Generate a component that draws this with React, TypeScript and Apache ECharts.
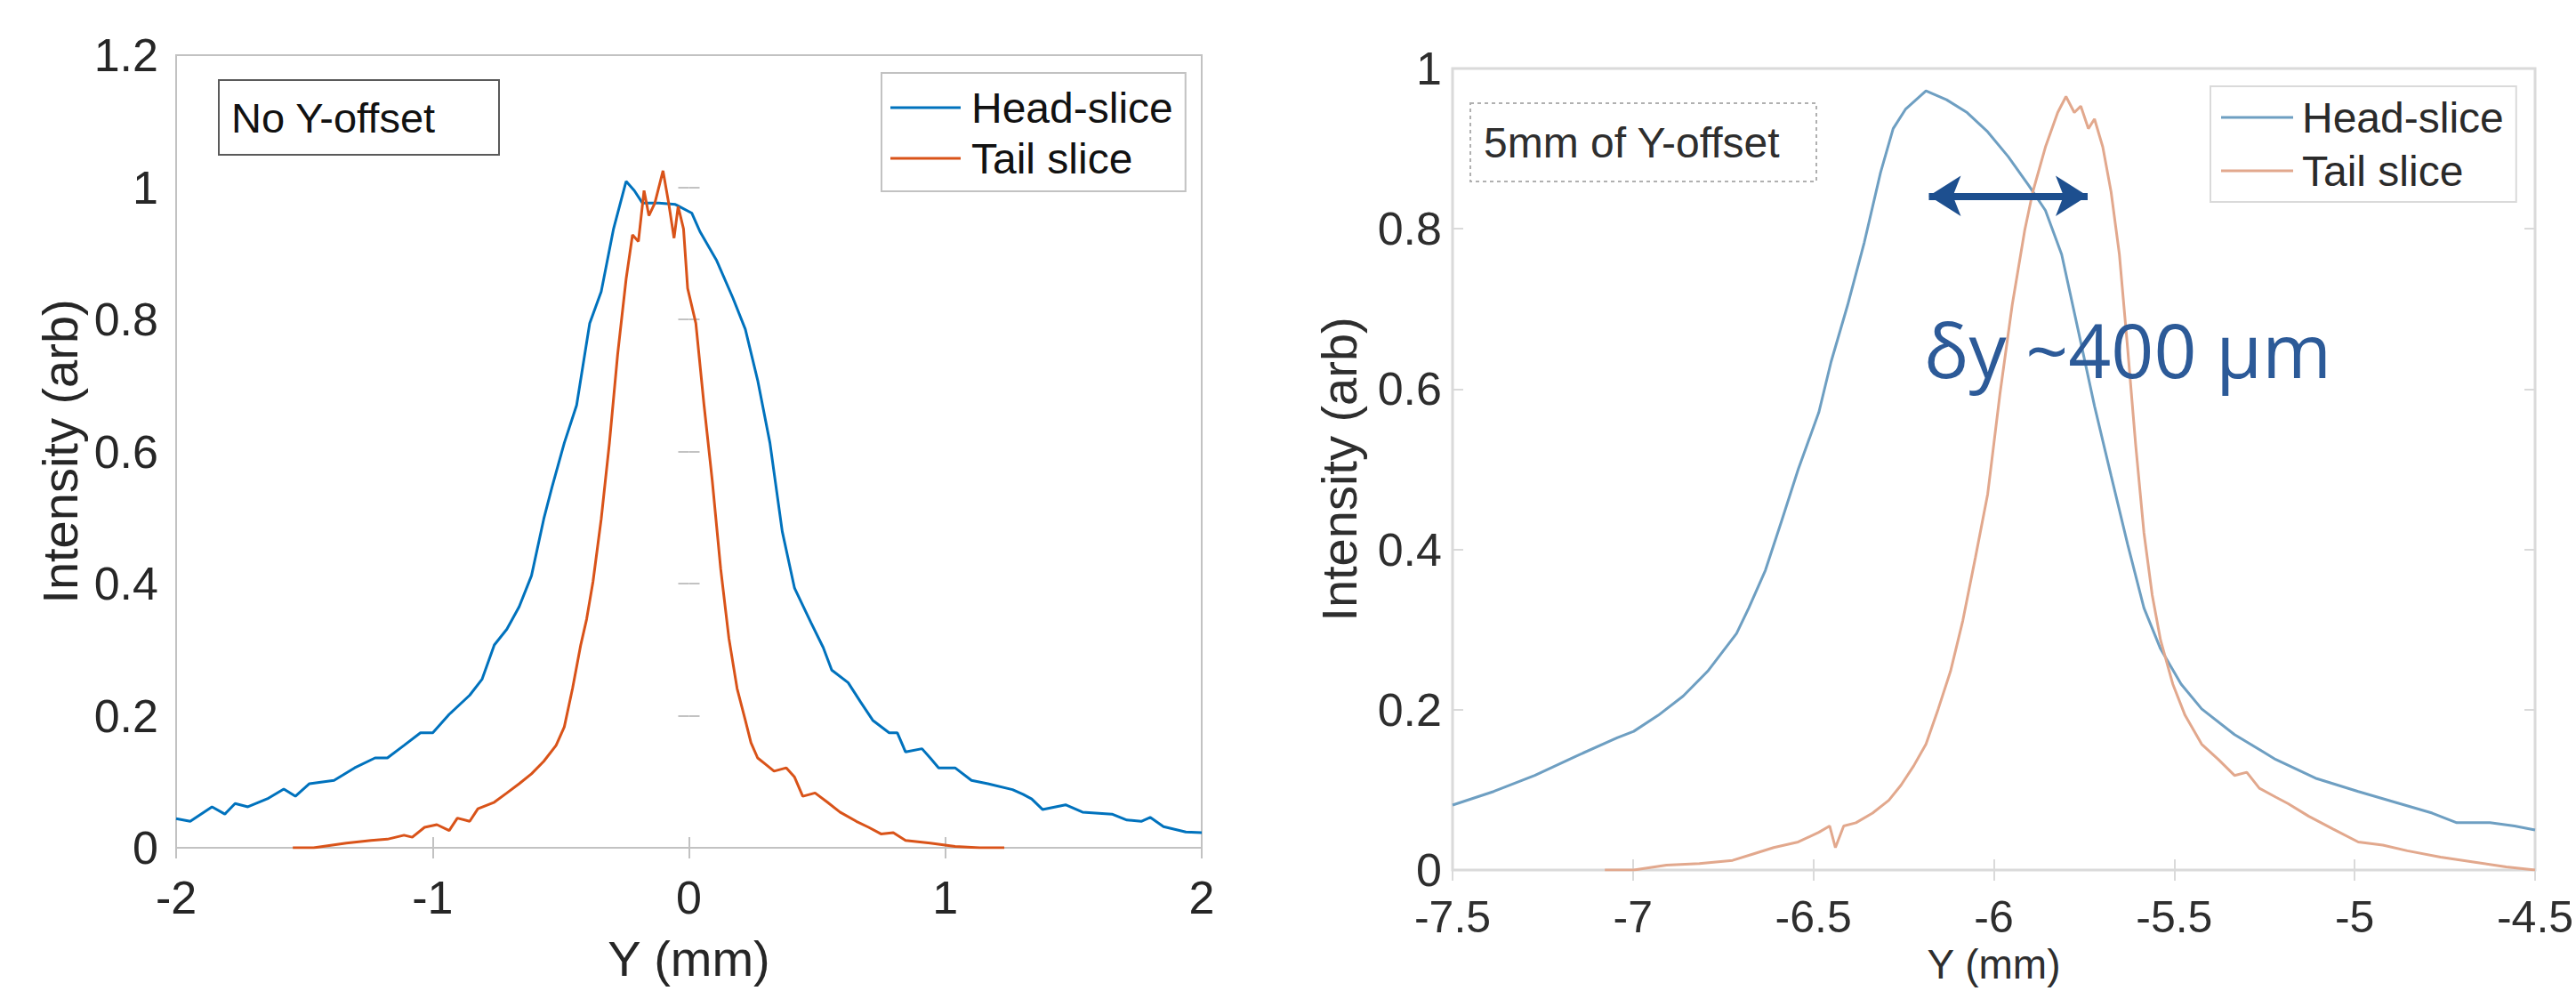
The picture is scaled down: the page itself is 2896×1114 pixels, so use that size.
import React, { useEffect, useRef } from "react";
import * as echarts from "echarts";

// ---------- Left panel: No Y-offset ----------
const leftHeadX = [-2.0, -1.945, -1.86, -1.81, -1.77, -1.72, -1.64, -1.58, -1.535, -1.48, -1.384, -1.304, -1.224, -1.176, -1.111, -1.047, -0.999, -0.935, -0.855, -0.807, -0.759, -0.71, -0.662, -0.614, -0.566, -0.534, -0.486, -0.438, -0.387, -0.342, -0.294, -0.245, -0.213, -0.181, -0.117, -0.053, 0.011, 0.043, 0.107, 0.172, 0.22, 0.268, 0.316, 0.364, 0.412, 0.476, 0.524, 0.557, 0.621, 0.669, 0.717, 0.781, 0.813, 0.845, 0.909, 0.941, 0.974, 1.038, 1.102, 1.166, 1.262, 1.303, 1.337, 1.379, 1.469, 1.535, 1.65, 1.708, 1.764, 1.799, 1.851, 1.938, 2.0];
const leftHeadY = [0.044, 0.04, 0.062, 0.051, 0.067, 0.062, 0.075, 0.089, 0.078, 0.097, 0.102, 0.121, 0.136, 0.136, 0.155, 0.174, 0.174, 0.202, 0.231, 0.255, 0.307, 0.331, 0.365, 0.412, 0.498, 0.546, 0.613, 0.67, 0.794, 0.842, 0.937, 1.009, 0.995, 0.976, 0.976, 0.974, 0.961, 0.933, 0.89, 0.832, 0.785, 0.708, 0.613, 0.479, 0.393, 0.341, 0.303, 0.269, 0.25, 0.221, 0.193, 0.174, 0.174, 0.145, 0.15, 0.136, 0.121, 0.121, 0.102, 0.097, 0.088, 0.081, 0.074, 0.058, 0.065, 0.054, 0.051, 0.042, 0.04, 0.046, 0.032, 0.024, 0.023];

const leftTailX = [-1.545, -1.464, -1.336, -1.24, -1.176, -1.111, -1.079, -1.031, -0.983, -0.935, -0.903, -0.855, -0.823, -0.759, -0.71, -0.662, -0.614, -0.566, -0.518, -0.486, -0.454, -0.422, -0.399, -0.374, -0.342, -0.31, -0.278, -0.245, -0.22, -0.197, -0.175, -0.156, -0.133, -0.101, -0.079, -0.058, -0.042, -0.021, -0.005, 0.027, 0.059, 0.091, 0.124, 0.156, 0.188, 0.22, 0.242, 0.268, 0.3, 0.332, 0.38, 0.412, 0.444, 0.492, 0.54, 0.589, 0.653, 0.701, 0.749, 0.797, 0.845, 0.941, 1.038, 1.134, 1.23];
const leftTailY = [0.0, 0.0, 0.007, 0.011, 0.013, 0.019, 0.016, 0.031, 0.035, 0.026, 0.045, 0.04, 0.059, 0.069, 0.083, 0.097, 0.112, 0.131, 0.155, 0.183, 0.241, 0.307, 0.346, 0.403, 0.498, 0.613, 0.747, 0.861, 0.928, 0.918, 0.995, 0.957, 0.976, 1.025, 0.976, 0.923, 0.971, 0.937, 0.847, 0.794, 0.67, 0.556, 0.422, 0.317, 0.241, 0.193, 0.159, 0.136, 0.126, 0.116, 0.121, 0.107, 0.078, 0.083, 0.069, 0.054, 0.04, 0.031, 0.021, 0.023, 0.011, 0.007, 0.002, 0.0, 0.0];

// ---------- Right panel: 5mm of Y-offset ----------
const rightHeadX = [-7.5, -7.386, -7.272, -7.158, -7.044, -6.998, -6.93, -6.861, -6.793, -6.713, -6.679, -6.633, -6.587, -6.542, -6.485, -6.451, -6.405, -6.359, -6.314, -6.279, -6.245, -6.188, -6.131, -6.074, -6.017, -5.96, -5.903, -5.857, -5.812, -5.766, -5.721, -5.675, -5.629, -5.584, -5.538, -5.481, -5.424, -5.333, -5.219, -5.105, -4.99, -4.876, -4.785, -4.717, -4.625, -4.557, -4.5];
const rightHeadY = [0.081, 0.098, 0.118, 0.142, 0.165, 0.173, 0.193, 0.217, 0.248, 0.295, 0.327, 0.374, 0.437, 0.5, 0.571, 0.634, 0.705, 0.783, 0.87, 0.925, 0.949, 0.972, 0.961, 0.945, 0.921, 0.89, 0.854, 0.823, 0.768, 0.673, 0.579, 0.492, 0.406, 0.327, 0.276, 0.232, 0.201, 0.169, 0.138, 0.114, 0.098, 0.083, 0.071, 0.059, 0.059, 0.055, 0.05];

const rightTailX = [-7.078, -6.998, -6.907, -6.816, -6.724, -6.667, -6.61, -6.542, -6.485, -6.455, -6.439, -6.416, -6.382, -6.336, -6.291, -6.257, -6.222, -6.188, -6.154, -6.12, -6.086, -6.051, -6.017, -5.983, -5.949, -5.914, -5.892, -5.857, -5.823, -5.8, -5.777, -5.759, -5.738, -5.721, -5.698, -5.675, -5.652, -5.629, -5.607, -5.584, -5.561, -5.538, -5.504, -5.47, -5.424, -5.378, -5.333, -5.299, -5.264, -5.219, -5.185, -5.127, -5.059, -4.99, -4.922, -4.854, -4.762, -4.671, -4.58, -4.5];
const rightTailY = [0.0, 0.0, 0.006, 0.008, 0.012, 0.02, 0.028, 0.035, 0.047, 0.055, 0.028, 0.055, 0.059, 0.071, 0.087, 0.106, 0.13, 0.157, 0.201, 0.248, 0.311, 0.39, 0.469, 0.594, 0.705, 0.799, 0.846, 0.902, 0.945, 0.965, 0.945, 0.953, 0.925, 0.937, 0.902, 0.846, 0.768, 0.65, 0.531, 0.421, 0.343, 0.287, 0.232, 0.193, 0.157, 0.138, 0.118, 0.122, 0.102, 0.091, 0.083, 0.067, 0.051, 0.035, 0.031, 0.024, 0.016, 0.01, 0.004, 0.0];

// Annotation arrow (data coordinates of the right panel)
const arrowX = [-6.18, -5.74];
const arrowY = 0.841;

const seriesNames = ["Head-slice", "Tail slice"];
const leftTexts = { box: "No Y-offset", xName: "Y (mm)", yName: "Intensity (arb)" };
const rightTexts = { box: "5mm of Y-offset", xName: "Y (mm)", yName: "Intensity (arb)", note: "δy ~400 μm" };

const FONT = '"Liberation Sans", Arial, sans-serif';

const pair = (xs: number[], ys: number[]) => xs.map((x, i) => [x, ys[i]]);

export default function App() {
  const ref = useRef<HTMLDivElement>(null);

  useEffect(() => {
    if (!ref.current) return;
    const chart = echarts.init(ref.current, undefined, { renderer: "svg" });

    const L_BLUE = "#0072BD";
    const L_ORANGE = "#D95319";
    const R_BLUE = "#6e9fc2";
    const R_ORANGE = "#e2a88d";
    const L_BOX = "#c2c2c2";
    const R_BOX = "#dadada";

    const xBase = (grid: number, min: number, max: number, interval: number, color: string, labelColor: string, name: string, margin: number, nameGap: number, nameSize: number, labelSize: number) => ({
      gridIndex: grid,
      type: "value",
      min,
      max,
      interval,
      position: "bottom",
      axisLine: { show: false },
      axisTick: { show: true, inside: true, length: 12, lineStyle: { color, width: 2 } },
      axisLabel: { fontSize: labelSize, lineHeight: labelSize, color: labelColor, margin, fontFamily: FONT, showMinLabel: true, showMaxLabel: true },
      splitLine: { show: false },
      name,
      nameLocation: "middle",
      nameGap,
      nameTextStyle: { fontSize: nameSize, lineHeight: nameSize, color: labelColor, fontFamily: FONT },
    });
    const xTop = (grid: number, min: number, max: number, interval: number, color: string) => ({
      gridIndex: grid,
      type: "value",
      min,
      max,
      interval,
      position: "top",
      axisLine: { show: false },
      axisTick: { show: true, inside: true, length: 12, lineStyle: { color, width: 2 } },
      axisLabel: { show: false },
      splitLine: { show: false },
    });
    const yBase = (grid: number, max: number, color: string, labelColor: string, name: string, margin: number, nameGap: number) => ({
      gridIndex: grid,
      type: "value",
      min: 0,
      max,
      interval: 0.2,
      position: "left",
      axisLine: { show: false },
      axisTick: { show: true, inside: true, length: 12, lineStyle: { color, width: 2 } },
      axisLabel: { fontSize: 52, lineHeight: 52, color: labelColor, margin, fontFamily: FONT, showMinLabel: true, showMaxLabel: true },
      splitLine: { show: false },
      name,
      nameLocation: "middle",
      nameGap,
      nameTextStyle: { fontSize: 56, color: labelColor, fontFamily: FONT },
    });
    const yRight = (grid: number, max: number, color: string) => ({
      gridIndex: grid,
      type: "value",
      min: 0,
      max,
      interval: 0.2,
      position: "right",
      axisLine: { show: false },
      axisTick: { show: true, inside: true, length: 12, lineStyle: { color, width: 2 } },
      axisLabel: { show: false },
      splitLine: { show: false },
    });

    const option: any = {
      animation: false,
      backgroundColor: "#ffffff",
      grid: [
        { left: 198, top: 62, width: 1153, height: 891, show: true, borderColor: L_BOX, borderWidth: 2, backgroundColor: "transparent", containLabel: false, outerBoundsMode: "none" },
        { left: 1633, top: 77, width: 1217, height: 901, show: true, borderColor: R_BOX, borderWidth: 3, backgroundColor: "transparent", containLabel: false, outerBoundsMode: "none" },
      ],
      xAxis: [
        xBase(0, -2, 2, 1, L_BOX, "#262626", leftTexts.xName, 30, 96, 56, 52),
        xTop(0, -2, 2, 1, L_BOX),
        xBase(1, -7.5, -4.5, 0.5, R_BOX, "#2e2e2e", rightTexts.xName, 28, 78, 46, 50),
        xTop(1, -7.5, -4.5, 0.5, R_BOX),
      ],
      yAxis: [
        yBase(0, 1.2, L_BOX, "#262626", leftTexts.yName, 20, 103),
        yRight(0, 1.2, L_BOX),
        yBase(1, 1, R_BOX, "#2e2e2e", rightTexts.yName, 12, 100),
        yRight(1, 1, R_BOX),
      ],
      legend: [
        {
          orient: "vertical",
          left: 991,
          top: 82,
          padding: [14, 14, 12, 10],
          icon: "rect",
          itemWidth: 79,
          itemHeight: 3,
          itemGap: 7,
          selectedMode: false,
          backgroundColor: "#ffffff",
          borderColor: L_BOX,
          borderWidth: 2,
          borderRadius: 0,
          textStyle: { fontSize: 48, color: "#111111", fontFamily: FONT, padding: [0, 0, 0, 7], lineHeight: 50 },
          data: [
            { name: seriesNames[0], itemStyle: { color: L_BLUE } },
            { name: seriesNames[1], itemStyle: { color: L_ORANGE } },
          ],
        },
        {
          orient: "vertical",
          left: 2485,
          top: 97,
          padding: [10, 14, 10, 12],
          icon: "rect",
          itemWidth: 81,
          itemHeight: 3,
          itemGap: 10,
          selectedMode: false,
          backgroundColor: "#ffffff",
          borderColor: R_BOX,
          borderWidth: 2,
          borderRadius: 0,
          textStyle: { fontSize: 48, color: "#2a2a2a", fontFamily: FONT, padding: [0, 0, 0, 5], lineHeight: 50 },
          data: [
            { name: seriesNames[0], itemStyle: { color: R_BLUE } },
            { name: seriesNames[1], itemStyle: { color: R_ORANGE } },
          ],
        },
      ],
      series: [
        {
          name: seriesNames[0],
          type: "line",
          xAxisIndex: 0,
          yAxisIndex: 0,
          data: pair(leftHeadX, leftHeadY),
          symbol: "none",
          lineStyle: { color: L_BLUE, width: 3 },
          itemStyle: { color: L_BLUE },
        },
        {
          name: seriesNames[1],
          type: "line",
          xAxisIndex: 0,
          yAxisIndex: 0,
          data: pair(leftTailX, leftTailY),
          symbol: "none",
          lineStyle: { color: L_ORANGE, width: 3 },
          itemStyle: { color: L_ORANGE },
        },
        {
          name: seriesNames[0],
          type: "line",
          xAxisIndex: 2,
          yAxisIndex: 2,
          data: pair(rightHeadX, rightHeadY),
          symbol: "none",
          lineStyle: { color: R_BLUE, width: 3 },
          itemStyle: { color: R_BLUE },
        },
        {
          name: seriesNames[1],
          type: "line",
          xAxisIndex: 2,
          yAxisIndex: 2,
          data: pair(rightTailX, rightTailY),
          symbol: "none",
          lineStyle: { color: R_ORANGE, width: 3 },
          itemStyle: { color: R_ORANGE },
          markLine: {
            silent: true,
            symbol: ["arrow", "arrow"],
            symbolSize: [34, 36],
            label: { show: false },
            lineStyle: { color: "#1d4f8f", width: 8, type: "solid" },
            emphasis: { disabled: true },
            data: [[{ coord: [arrowX[0], arrowY] }, { coord: [arrowX[1], arrowY] }]],
            z: 20,
          },
        },
      ],
      graphic: [
        {
          type: "rect",
          z: 50,
          shape: { x: 246, y: 90, width: 315, height: 84 },
          style: { fill: "#ffffff", stroke: "#5a5a5a", lineWidth: 2 },
        },
        {
          type: "text",
          z: 51,
          x: 260,
          y: 132,
          style: { text: leftTexts.box, fontSize: 47, fill: "#111111", fontFamily: FONT, verticalAlign: "middle", align: "left" },
        },
        {
          type: "rect",
          z: 50,
          shape: { x: 1653, y: 116, width: 389, height: 88 },
          style: { fill: "#ffffff", stroke: "#b0b0b0", lineWidth: 2, lineDash: [4, 4] },
        },
        {
          type: "text",
          z: 51,
          x: 1668,
          y: 160,
          style: { text: rightTexts.box, fontSize: 48, fill: "#2e2e2e", fontFamily: FONT, verticalAlign: "middle", align: "left" },
        },
        {
          type: "text",
          z: 60,
          x: 2163,
          y: 392,
          style: { text: rightTexts.note, fontSize: 84, fill: "#2c5a98", fontFamily: "'Open Sans', Lato, sans-serif", verticalAlign: "middle", align: "left" },
        },
      ],
    };

    chart.setOption(option);
    return () => chart.dispose();
  }, []);

  return (
    <div
      ref={ref}
      style={{ position: "fixed", left: 0, top: 0, width: 2896, height: 1114, background: "#fff" }}
    />
  );
}
